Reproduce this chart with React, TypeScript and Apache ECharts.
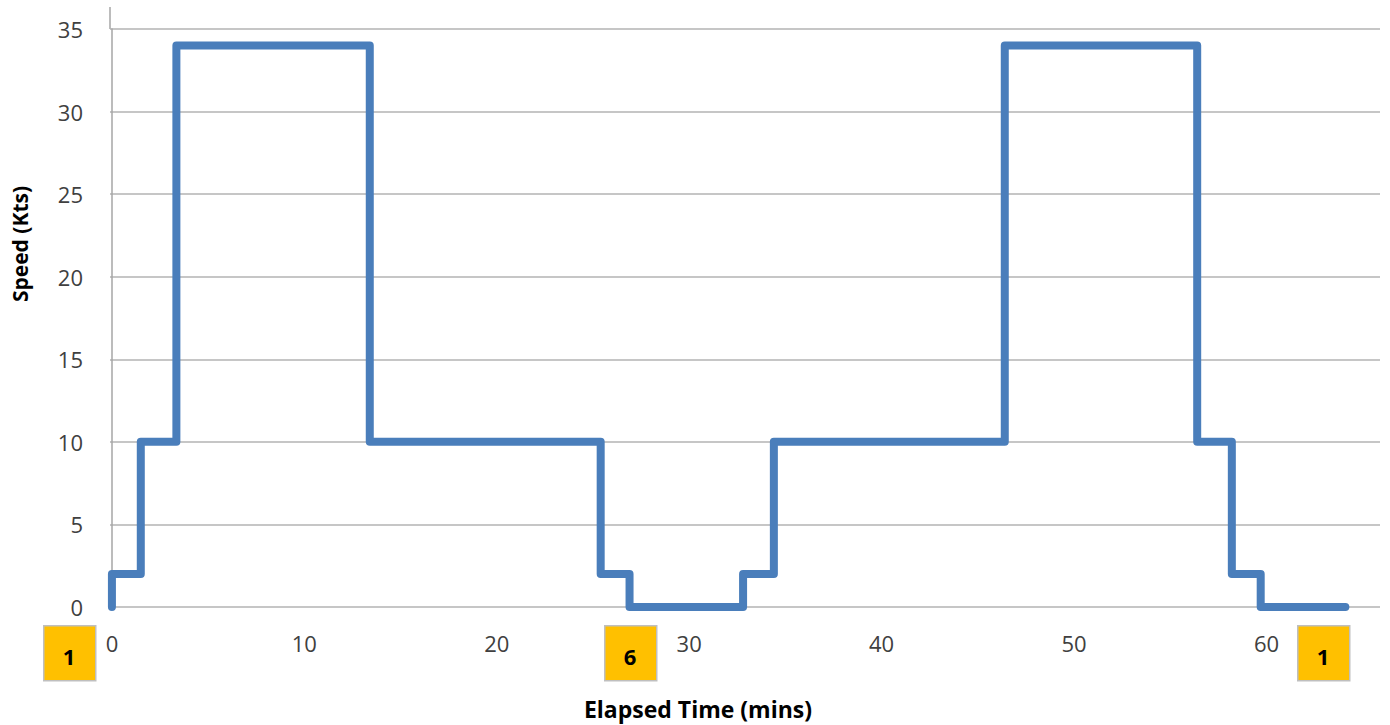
import React, { useEffect, useRef } from "react";
import * as echarts from "echarts";

const stepTimes = [0, 0, 1.5, 3.35, 13.4, 25.4, 26.9, 32.8, 34.4, 46.4, 56.4, 58.2, 59.7, 64.1];
const stepSpeeds = [0, 2, 10, 34, 10, 2, 0, 2, 10, 34, 10, 2, 0, 0];
const xTickLabels = [0, 10, 20, 30, 40, 50, 60];
const yTickLabels = [0, 5, 10, 15, 20, 25, 30, 35];
const markers = [
  { label: "1", left: 43 },
  { label: "6", left: 604 },
  { label: "1", left: 1297 },
];

const FONT = "'Open Sans', 'Noto Sans', sans-serif";

export default function App() {
  const ref = useRef<HTMLDivElement>(null);
  useEffect(() => {
    if (!ref.current) return;
    const chart = echarts.init(ref.current, undefined, { renderer: "svg" });
    const data = stepTimes.map((t, i) => [t, stepSpeeds[i]]);
    const boxGraphics: any[] = [];
    markers.forEach((m) => {
      boxGraphics.push({
        type: "rect",
        left: m.left,
        top: 625,
        shape: { width: 52, height: 55 },
        style: { fill: "#FFC000", stroke: "#BFBFBF", lineWidth: 1.5 },
        z: 10,
      });
      boxGraphics.push({
        type: "text",
        x: m.left + 26,
        y: 656,
        style: {
          text: m.label,
          fill: "#000",
          font: `bold 22px ${FONT}`,
          align: "center",
          verticalAlign: "middle",
        },
        z: 11,
      });
    });
    chart.setOption({
      animation: false,
      grid: { left: 110, right: 10, top: 29, bottom: 118, containLabel: false },
      xAxis: {
        type: "value",
        min: -0.1,
        max: 65.9,
        axisLine: { show: false },
        axisTick: { show: false },
        splitLine: { show: false },
        splitNumber: 7,
        axisLabel: {
          showMaxLabel: false,
          showMinLabel: false,
          margin: 25,
          color: "#404040",
          fontSize: 22,
          fontFamily: FONT,
          formatter: (v: number) => (xTickLabels.includes(v) ? String(v) : ""),
        },
      },
      yAxis: {
        type: "value",
        min: 0,
        max: 35,
        interval: 5,
        axisLine: { show: true, lineStyle: { color: "#A6A6A6", width: 1.5 } },
        axisTick: { show: false },
        splitLine: { show: true, lineStyle: { color: "#B3B3B3", width: 1.5 } },
        axisLabel: {
          margin: 27,
          color: "#404040",
          fontSize: 22,
          fontFamily: FONT,
          formatter: (v: number) => (yTickLabels.includes(v) ? String(v) : ""),
        },
      },
      graphic: [
        {
          type: "line",
          shape: { x1: 110, y1: 7, x2: 110, y2: 29 },
          style: { stroke: "#A6A6A6", lineWidth: 1.5 },
        },
        {
          type: "text",
          x: 20,
          y: 244,
          rotation: Math.PI / 2,
          style: {
            text: "Speed (Kts)",
            fill: "#000",
            font: `bold 21px ${FONT}`,
            align: "center",
            verticalAlign: "middle",
          },
        },
        {
          type: "text",
          x: 698,
          y: 709,
          style: {
            text: "Elapsed Time (mins)",
            fill: "#000",
            font: `bold 23px ${FONT}`,
            align: "center",
            verticalAlign: "middle",
          },
        },
        ...boxGraphics,
      ],
      series: [
        {
          type: "line",
          step: "end",
          data,
          showSymbol: false,
          lineStyle: { color: "#4A7EBB", width: 8, cap: "round", join: "round" },
          z: 5,
        },
      ],
    });
    return () => chart.dispose();
  }, []);
  return (
    <div
      ref={ref}
      style={{ position: "fixed", left: 0, top: 0, width: 1390, height: 725, background: "#fff" }}
    />
  );
}
